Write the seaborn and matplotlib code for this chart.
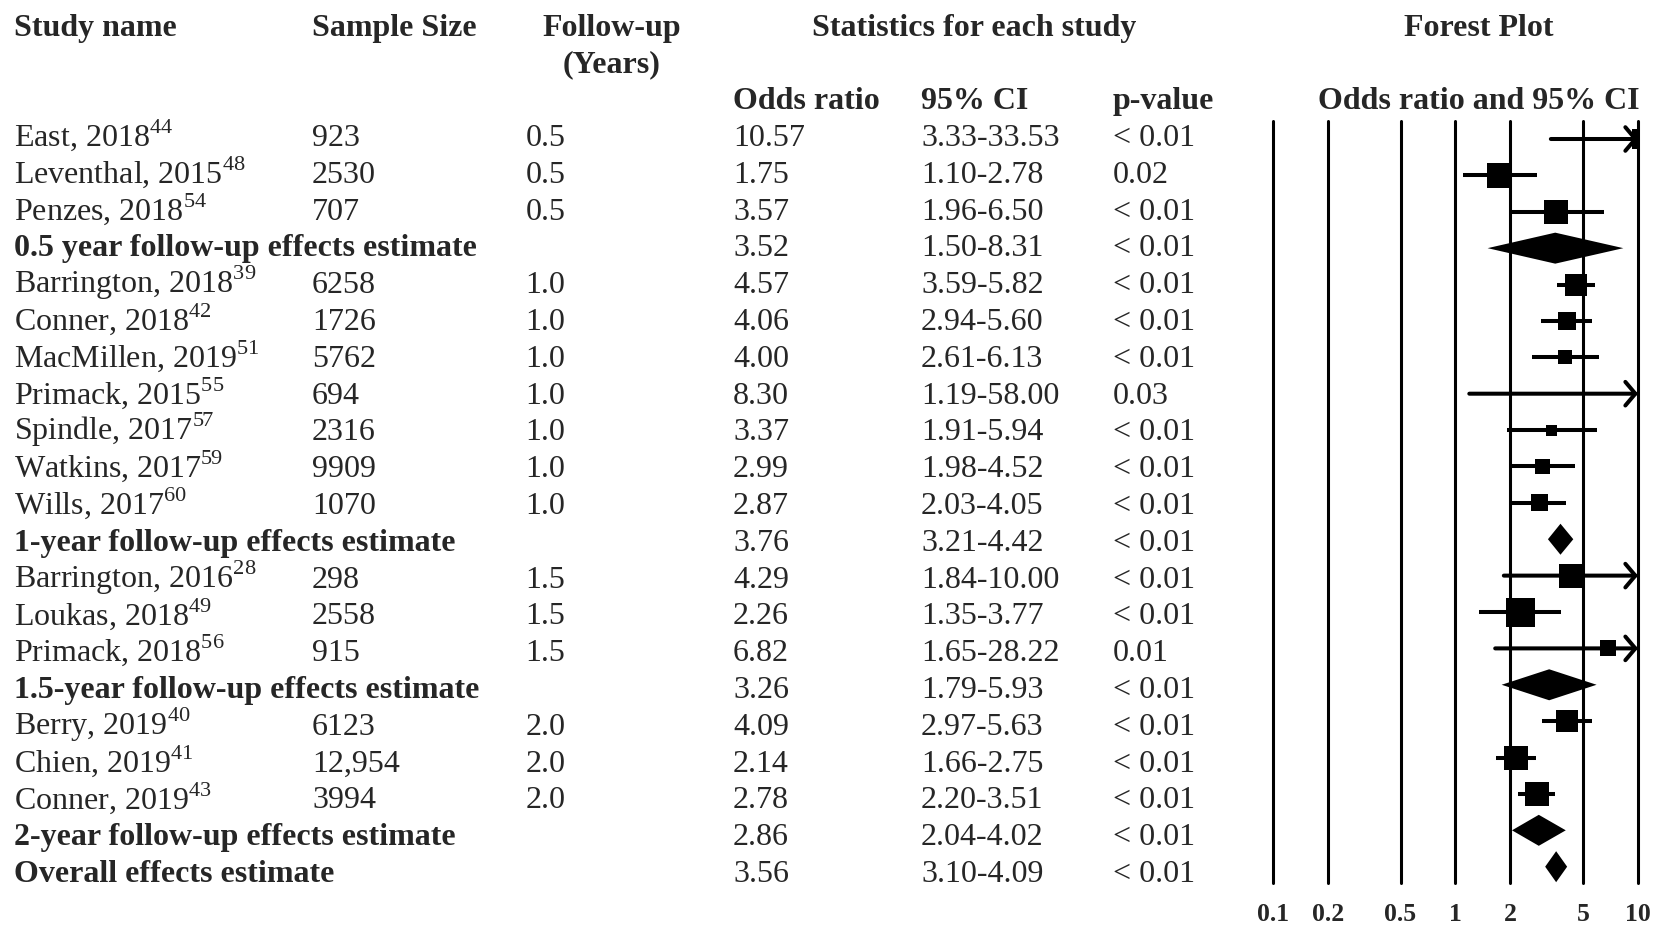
import matplotlib
matplotlib.use("Agg")
import matplotlib.pyplot as plt
import seaborn as sns
import numpy as np
import pandas as pd

# ---------------- data ----------------
studies = ["East, 2018", "Leventhal, 2015", "Penzes, 2018",
           "0.5 year follow-up effects estimate",
           "Barrington, 2018", "Conner, 2018", "MacMillen, 2019", "Primack, 2015",
           "Spindle, 2017", "Watkins, 2017", "Wills, 2017",
           "1-year follow-up effects estimate",
           "Barrington, 2016", "Loukas, 2018", "Primack, 2018",
           "1.5-year follow-up effects estimate",
           "Berry, 2019", "Chien, 2019", "Conner, 2019",
           "2-year follow-up effects estimate",
           "Overall effects estimate"]
refs = ["44", "48", "54", "", "39", "42", "51", "55", "57", "59", "60", "",
        "28", "49", "56", "", "40", "41", "43", "", ""]
sample_sizes = ["923", "2530", "707", "", "6258", "1726", "5762", "694", "2316",
                "9909", "1070", "", "298", "2558", "915", "", "6123", "12,954",
                "3994", "", ""]
follow_up = ["0.5", "0.5", "0.5", "", "1.0", "1.0", "1.0", "1.0", "1.0", "1.0",
             "1.0", "", "1.5", "1.5", "1.5", "", "2.0", "2.0", "2.0", "", ""]
odds_ratio = [10.57, 1.75, 3.57, 3.52, 4.57, 4.06, 4.00, 8.30, 3.37, 2.99, 2.87,
              3.76, 4.29, 2.26, 6.82, 3.26, 4.09, 2.14, 2.78, 2.86, 3.56]
ci_lower = [3.33, 1.10, 1.96, 1.50, 3.59, 2.94, 2.61, 1.19, 1.91, 1.98, 2.03,
            3.21, 1.84, 1.35, 1.65, 1.79, 2.97, 1.66, 2.20, 2.04, 3.10]
ci_upper = [33.53, 2.78, 6.50, 8.31, 5.82, 5.60, 6.13, 58.00, 5.94, 4.52, 4.05,
            4.42, 10.00, 3.77, 28.22, 5.93, 5.63, 2.75, 3.51, 4.02, 4.09]
p_values = ["< 0.01", "0.02", "< 0.01", "< 0.01", "< 0.01", "< 0.01", "< 0.01",
            "0.03", "< 0.01", "< 0.01", "< 0.01", "< 0.01", "< 0.01", "< 0.01",
            "0.01", "< 0.01", "< 0.01", "< 0.01", "< 0.01", "< 0.01", "< 0.01"]
# relative study weights (drive square size); 0 for summary rows
weights = [20, 25, 24, 0, 22, 18, 14, 3, 11, 15, 17, 0, 24, 29, 16, 0,
           22, 24, 24, 0, 0]
is_summary = [False, False, False, True, False, False, False, False, False,
              False, False, True, False, False, False, True, False, False,
              False, True, True]
tick_values = [0.1, 0.2, 0.5, 1, 2, 5, 10]
tick_labels = ["0.1", "0.2", "0.5", "1", "2", "5", "10"]

# ---------------- style ----------------
sns.set_theme(style="white")
plt.rcParams['font.family'] = ['Liberation Serif', 'DejaVu Serif']
plt.rcParams['mathtext.fontset'] = 'custom'
plt.rcParams['mathtext.rm'] = 'Liberation Serif'
plt.rcParams['mathtext.bf'] = 'Liberation Serif:bold'

W, H = 1658, 926
FS = 23
fig = plt.figure(figsize=(W / 100, H / 100), dpi=100)
fig.patch.set_facecolor("white")

# text layer in pixel coordinates
axt = fig.add_axes([0, 0, 1, 1])
axt.set_xlim(0, W)
axt.set_ylim(H, 0)
axt.axis("off")

# forest plot axes
x_left, x_right = 1273, 1638
y_top, y_bot = 121, 883.3
row0, row_step = 139.0, 36.385
axf = fig.add_axes([x_left / W, 1 - y_bot / H, (x_right - x_left) / W, (y_bot - y_top) / H])
axf.patch.set_alpha(0)

n = len(studies)
rows = np.arange(n)

# vertical reference lines
for v in tick_values:
    axf.axvline(v, color="black", lw=2.2, clip_on=False, zorder=1)

# CI lines
LW = 2.9
for i in range(n):
    if is_summary[i]:
        continue
    lo, hi = ci_lower[i], ci_upper[i]
    if hi >= tick_values[-1]:
        axf.annotate("", xy=(tick_values[-1], i), xytext=(lo, i),
                     arrowprops=dict(arrowstyle="->,head_length=0.72,head_width=0.85",
                                     lw=LW, color="black", shrinkA=0, shrinkB=0,
                                     mutation_scale=10),
                     annotation_clip=False, zorder=2)
    else:
        axf.hlines(i, lo, hi, color="black", lw=LW, zorder=2)

# study squares via seaborn
df = pd.DataFrame({"or": odds_ratio, "row": rows, "w": weights, "summary": is_summary})
dstudy = df[~df["summary"]]
sizes = (dstudy["w"].to_numpy() * 0.72) ** 2
sns.scatterplot(data=dstudy, x="or", y="row", marker="s", s=sizes, color="black",
                edgecolor="black", linewidth=0, legend=False, ax=axf, zorder=3)

# summary diamonds
half_h = 15.5 / row_step
for i in range(n):
    if not is_summary[i]:
        continue
    axf.fill([ci_lower[i], odds_ratio[i], ci_upper[i], odds_ratio[i]],
             [i, i - half_h, i, i + half_h], color="black", lw=0, zorder=3)

axf.set_xscale("log")
axf.set_xlim(tick_values[0], tick_values[-1])
axf.set_ylim((y_bot - row0) / row_step, (y_top - row0) / row_step)
axf.set_xticks(tick_values)
axf.set_xticks([], minor=True)
axf.set_xticklabels(tick_labels, fontsize=18.5, fontweight="bold")
axf.tick_params(axis="x", length=0, pad=14)
axf.set_yticks([])
axf.set_xlabel("")
axf.set_ylabel("")
for s in axf.spines.values():
    s.set_visible(False)
axf.grid(False)

# ---------------- table text ----------------
base0, text_step = 146.0, 36.8
col_name, col_n, col_fu, col_or, col_ci, col_p = 14, 312, 525.5, 733, 921, 1113

hb1 = base0 - 3 * text_step
hb2 = base0 - 2 * text_step
hb3 = base0 - 1 * text_step
hkw = dict(fontsize=FS, fontweight="bold", va="baseline")
axt.text(col_name, hb1, "Study name", ha="left", **hkw)
axt.text(col_n, hb1, "Sample Size", ha="left", **hkw)
axt.text(612, hb1, "Follow-up", ha="center", **hkw)
axt.text(612, hb2, "(Years)", ha="center", **hkw)
axt.text(974, hb1, "Statistics for each study", ha="center", **hkw)
axt.text(1479, hb1, "Forest Plot", ha="center", **hkw)
axt.text(col_or, hb3, "Odds ratio", ha="left", **hkw)
axt.text(col_ci, hb3, "95% CI", ha="left", **hkw)
axt.text(col_p, hb3, "p-value", ha="left", **hkw)
axt.text(1478.5, hb3, "Odds ratio and 95% CI", ha="center", **hkw)

for i in range(n):
    yb = base0 + i * text_step
    weight = "bold" if is_summary[i] else "normal"
    label = studies[i]
    if refs[i]:
        label = label + r"$^{\mathrm{" + refs[i] + "}}$"
    axt.text(col_name, yb, label, fontsize=FS, fontweight=weight, va="baseline", ha="left")
    axt.text(col_n, yb, sample_sizes[i], fontsize=FS, va="baseline", ha="left")
    axt.text(col_fu, yb, follow_up[i], fontsize=FS, va="baseline", ha="left")
    axt.text(col_or, yb, f"{odds_ratio[i]:.2f}", fontsize=FS, va="baseline", ha="left")
    axt.text(col_ci, yb, f"{ci_lower[i]:.2f}-{ci_upper[i]:.2f}", fontsize=FS,
             va="baseline", ha="left")
    axt.text(col_p, yb, p_values[i], fontsize=FS, va="baseline", ha="left")

fig.savefig("out.png", dpi=100, facecolor="white")
